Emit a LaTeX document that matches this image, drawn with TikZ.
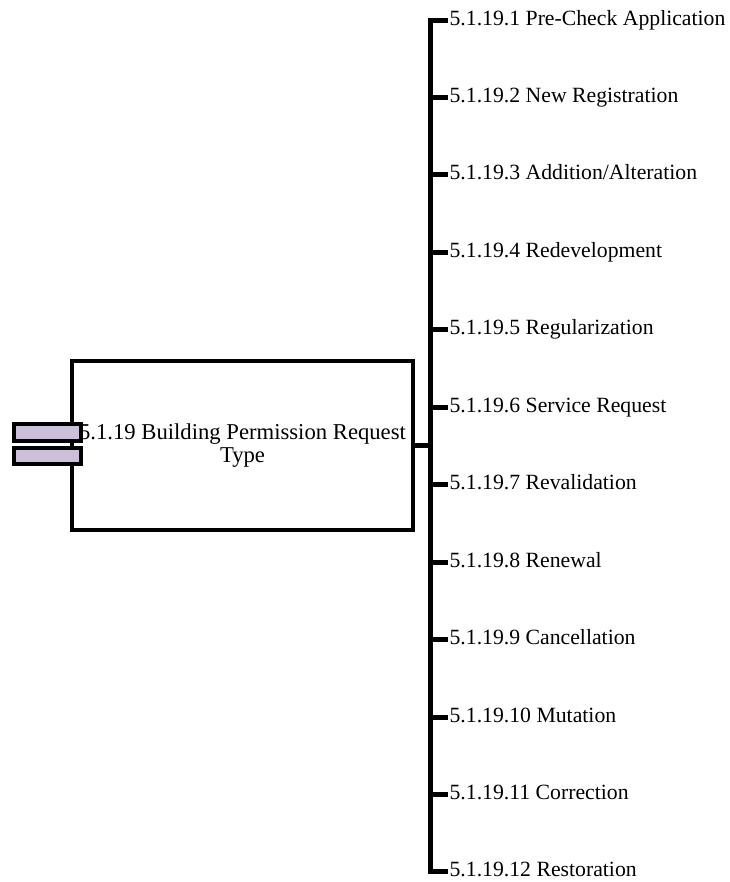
\documentclass[tikz,border=0pt]{standalone}
\usepackage{fontspec}
\setmainfont{Liberation Serif}
\usetikzlibrary{positioning}
\definecolor{tabfill}{RGB}{203,191,218}
\tikzset{
  comp/.style = {draw, line width=3pt, minimum width=255.75pt, minimum height=126.75pt, align=center, inner sep=0pt, font=\fontsize{17}{17.5}\selectfont},
  tab/.style = {draw, line width=3pt, fill=tabfill, minimum width=50.25pt, minimum height=12.5pt, inner sep=0pt},
  item/.style = {anchor=base west, inner sep=1pt, font=\fontsize{16.3}{19}\selectfont},
  tree/.style = {line width=3.75pt}
}

\begin{document}
\begin{tikzpicture}[x=0.75pt, y=-0.75pt]
\useasboundingbox (0,0) rectangle (730,882);
\node [comp] (main) at (242.5,445.5) {5.1.19 Building Permission Request\\Type};
\node [tab] (tabA) at (47.5,432.5) {};
\node [tab] (tabB) at (47.5,456) {};
% branches
\foreach \t [count=\n] in {Pre-Check Application, New Registration, {Addition/Alteration}, Redevelopment, Regularization, Service Request, Revalidation, Renewal, Cancellation, Mutation, Correction, Restoration}
{
  \coordinate (b\n) at (430,{20+(\n-1)*77.45});
  \node [item] (l\n) at (448,{25+(\n-1)*77.45}) {5.1.19.\n\ \t};
  \draw [tree] (b\n) -- (b\n -| l\n.west);
}
\draw [tree, line cap=rect] (b1) -- (b12);
\draw [tree] (main.east) -- (main.east -| b1);
\end{tikzpicture}
\end{document}
